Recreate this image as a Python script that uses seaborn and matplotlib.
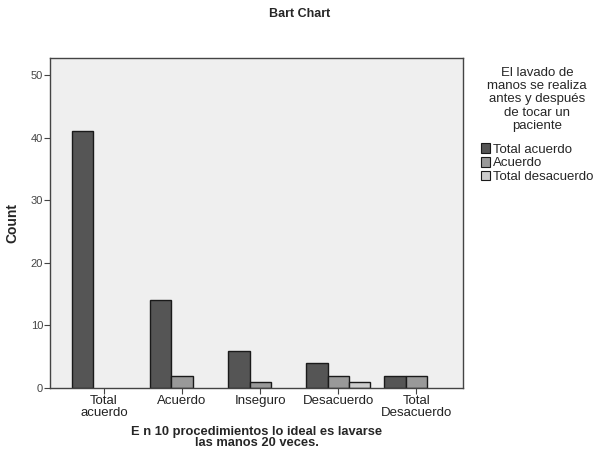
import pandas as pd
import numpy as np
import matplotlib
matplotlib.use("Agg")
import matplotlib.pyplot as plt
import seaborn as sns

# data
categories = ['Total\nacuerdo', 'Acuerdo', 'Inseguro', 'Desacuerdo', 'Total\nDesacuerdo']
hue_levels = ['Total acuerdo', 'Acuerdo', 'Total desacuerdo']
total_acuerdo = [41, 14, 6, 4, 2]
acuerdo = [0, 2, 1, 2, 2]
total_desacuerdo = [0, 0, 0, 1, 0]
colors = ['#555555', '#999999', '#cccccc']

rows = []
for series, vals in zip(hue_levels, [total_acuerdo, acuerdo, total_desacuerdo]):
    for c, v in zip(categories, vals):
        rows.append({'cat': c, 'grp': series, 'count': v})
df = pd.DataFrame(rows)

sns.set_theme(style='white')
plt.rcParams['font.family'] = ['Liberation Sans', 'DejaVu Sans']

fig = plt.figure(figsize=(6, 4.55), dpi=100)
ax = fig.add_axes([0.0833, 0.147, 0.689, 0.7255])
ax.set_facecolor('#efefef')

sns.barplot(data=df, x='cat', y='count', hue='grp', order=categories,
            hue_order=hue_levels, palette=colors, width=0.82,
            edgecolor='#1a1a1a', linewidth=1.0, ax=ax, legend=False)
# empty bars are not drawn in the original
for p in ax.patches:
    if p.get_height() == 0:
        p.set_visible(False)

ax.set_ylim(0, 52.7)
ax.set_xlim(-0.69, 4.6)
ax.set_yticks([0, 10, 20, 30, 40, 50])
ax.tick_params(axis='y', direction='out', length=4, width=0.8, colors='#444444',
               labelsize=8, labelcolor='#444444', left=True, pad=1)
ax.tick_params(axis='x', direction='out', length=4, width=0.8, colors='#444444',
               labelsize=9.5, labelcolor='#222222', bottom=True, pad=1)
for lab in ax.get_xticklabels():
    lab.set_linespacing(0.95)
for s in ax.spines.values():
    s.set_visible(True)
    s.set_color('#444444')
    s.set_linewidth(1.0)

ax.set_ylabel('Count', fontsize=10, fontweight='bold', labelpad=8)
ax.set_xlabel('E n 10 procedimientos lo ideal es lavarse\nlas manos 20 veces.',
              fontsize=9.3, fontweight='bold', linespacing=0.95, labelpad=5)

fig.suptitle('Bart Chart', x=0.5, y=0.982, fontsize=9, fontweight='bold')

handles = [matplotlib.patches.Patch(facecolor=c, edgecolor='#1a1a1a', linewidth=0.8)
           for c in colors]
leg = fig.legend(handles, hue_levels,
                 title='El lavado de\nmanos se realiza\nantes y después\nde tocar un\npaciente',
                 loc='upper center', bbox_to_anchor=(0.895, 0.868), frameon=False,
                 fontsize=9.5, title_fontsize=9.5, handlelength=0.75, handleheight=0.75,
                 handletextpad=0.2, labelspacing=0.1, borderpad=0, alignment='center')
leg.get_title().set_multialignment('center')
leg.get_title().set_linespacing(1.15)
leg._legend_box.sep = 8

fig.savefig('out.png', dpi=100)
